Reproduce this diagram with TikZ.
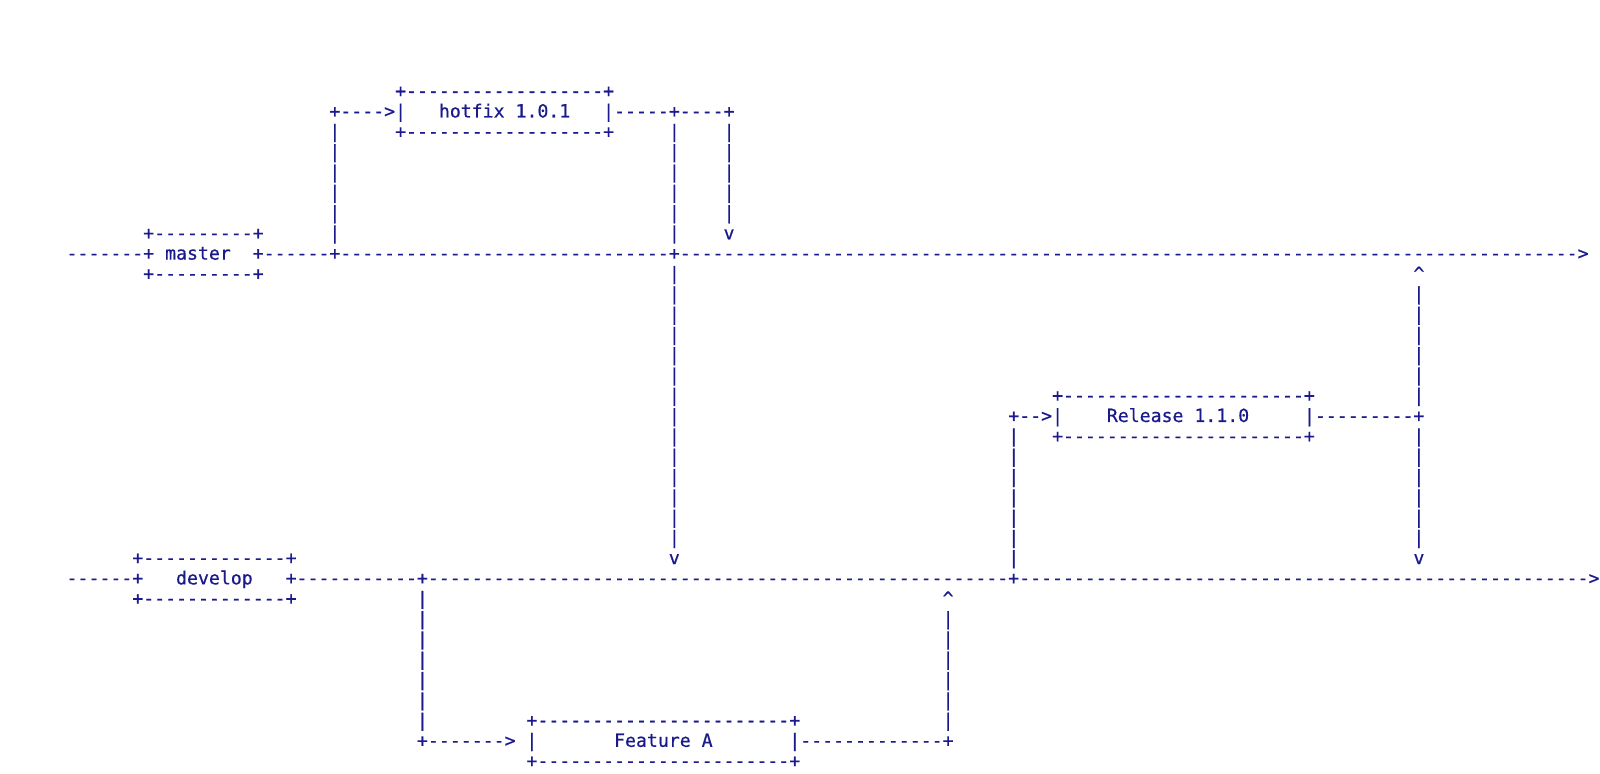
\documentclass[tikz,border=0pt]{standalone}
\usepackage{fontspec}
\setmonofont[FakeBold=0.6]{DejaVu Sans Mono}
\definecolor{ink}{RGB}{26,26,140}
\ExplSyntaxOn
\cs_new:Npn \myrep #1#2 {\prg_replicate:nn{#1}{#2}}
\ExplSyntaxOff
\newcommand\dsh[1]{\myrep{#1}{-}}
\tikzset{
  txt/.style={anchor=base west, inner sep=0pt, outer sep=0pt, text=ink,
    font=\ttfamily\fontsize{9.094pt}{10pt}\selectfont}
}
\newcommand\ascii[4]{\node[txt] (#1) at ({66.6+10.95*#2},{-97.2-20.3*#3}) {#4};}
\begin{document}
\begin{tikzpicture}[x=0.5pt,y=0.5pt]
\useasboundingbox (0,0) rectangle (1600,-774);
% hotfix
\ascii{hfTop}{30}{0}{+\dsh{18}+}
\ascii{hfIn}{24}{1}{+\dsh{4}>|}
\ascii{hotfix}{34}{1}{hotfix 1.0.1}
\ascii{hfOut}{49}{1}{|\dsh{5}+\dsh{4}+}
\ascii{hfBot}{30}{2}{+\dsh{18}+}
\foreach \r in {2,...,7} {\ascii{pa\r}{24}{\r}{|}}
\foreach \r in {2,...,7,9,10,...,22} {\ascii{pb\r}{55}{\r}{|}}
\foreach \r in {2,...,6} {\ascii{pc\r}{60}{\r}{|}}
\ascii{vHf}{60}{7}{v}
% master
\ascii{msTop}{7}{7}{+\dsh{9}+}
\ascii{msL}{0}{8}{\dsh{7}+}
\ascii{master}{9}{8}{master}
\ascii{msLine}{17}{8}{+\dsh{6}+\dsh{30}+\dsh{82}>}
\ascii{msBot}{7}{9}{+\dsh{9}+}
\ascii{upRel}{123}{9}{\textasciicircum}
\foreach \r in {10,...,15,17,18,...,22} {\ascii{pd\r}{123}{\r}{|}}
% release
\ascii{relTop}{90}{15}{+\dsh{22}+}
\ascii{relIn}{86}{16}{+\dsh{2}>|}
\ascii{release}{95}{16}{Release 1.1.0}
\ascii{relOut}{113}{16}{|\dsh{9}+}
\ascii{relBot}{90}{17}{+\dsh{22}+}
\foreach \r in {17,...,23} {\ascii{pe\r}{86}{\r}{|}}
% develop
\ascii{dvTop}{6}{23}{+\dsh{13}+}
\ascii{vHfDv}{55}{23}{v}
\ascii{vRelDv}{123}{23}{v}
\ascii{dvL}{0}{24}{\dsh{6}+}
\ascii{develop}{10}{24}{develop}
\ascii{dvLine}{20}{24}{+\dsh{11}+\dsh{53}+\dsh{52}>}
\ascii{dvBot}{6}{25}{+\dsh{13}+}
\ascii{upFt}{80}{25}{\textasciicircum}
\foreach \r in {25,...,31} {\ascii{pf\r}{32}{\r}{|}}
\foreach \r in {26,...,31} {\ascii{pg\r}{80}{\r}{|}}
% feature
\ascii{ftTop}{42}{31}{+\dsh{23}+}
\ascii{ftIn}{32}{32}{+\dsh{7}>}
\ascii{ftL}{42}{32}{|}
\ascii{feature}{50}{32}{Feature A}
\ascii{ftOut}{66}{32}{|\dsh{13}+}
\ascii{ftBot}{42}{33}{+\dsh{23}+}
\end{tikzpicture}
\end{document}
